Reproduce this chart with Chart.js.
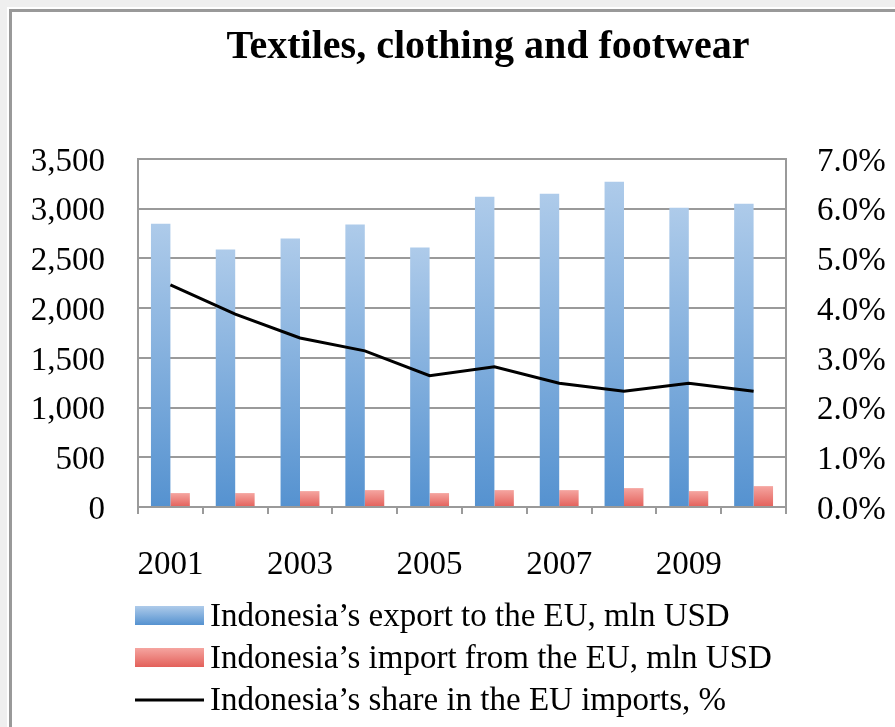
<!DOCTYPE html>
<html>
<head>
<meta charset="utf-8">
<script src="https://cdn.jsdelivr.net/npm/chart.js@4/dist/chart.umd.min.js"></script>
<style>
  html, body { margin: 0; padding: 0; background: #efefef; overflow: hidden; }
  .frame {
    position: absolute; left: 9px; top: 9px; width: 900px; height: 730px;
    background: #fff; border-left: 3px solid #999; border-top: 3px solid #999;
    box-shadow: -2px -2px 0 #fff;
  }
  #chart { position: absolute; left: 0; top: 0; }
</style>
</head>
<body>
<div class="frame"></div>
<canvas id="chart" width="895" height="727"></canvas>
<script>
// Years on the category axis
const years = ['2001', '2002', '2003', '2004', '2005', '2006', '2007', '2008', '2009', '2010'];
// Indonesia's export to the EU, mln USD
const exportToEU = [2850, 2590, 2700, 2840, 2610, 3120, 3150, 3270, 3010, 3050];
// Indonesia's import from the EU, mln USD
const importFromEU = [140, 140, 160, 170, 140, 170, 170, 190, 160, 210];
// Indonesia's share in the EU imports, %
const shareInEU = [4.47, 3.88, 3.40, 3.14, 2.64, 2.82, 2.49, 2.33, 2.49, 2.33];

const chartTitle = 'Textiles, clothing and footwear';
const seriesNames = [
  'Indonesia\u2019s export to the EU, mln USD',
  'Indonesia\u2019s import from the EU, mln USD',
  'Indonesia\u2019s share in the EU imports, %'
];

const FONT = '"Liberation Serif", "Times New Roman", serif';
const GRID = '#9a9a9a';
const BLUE = ['#aecbea', '#5592d0'];
const RED = ['#f5a5a0', '#e3605a'];

// vertical gradient spanning each bar from its top down to zero
function barGradient(stops) {
  return (c) => {
    const chart = c.chart;
    if (!chart.chartArea || c.type !== 'data') return stops[1];
    const y = chart.scales.y;
    const top = y.getPixelForValue(c.raw);
    const bottom = y.getPixelForValue(0);
    if (!isFinite(top) || top === bottom) return stops[1];
    const g = chart.ctx.createLinearGradient(0, top, 0, bottom);
    g.addColorStop(0, stops[0]);
    g.addColorStop(1, stops[1]);
    return g;
  };
}

// title and stacked legend drawn onto the canvas
const decorations = {
  id: 'decorations',
  afterDraw(chart) {
    const ctx = chart.ctx;
    ctx.save();
    ctx.fillStyle = '#000';
    ctx.textBaseline = 'alphabetic';
    ctx.textAlign = 'center';
    ctx.font = 'bold 40px ' + FONT;
    ctx.fillText(chartTitle, 488, 58);

    ctx.textAlign = 'left';
    ctx.font = '33px ' + FONT;
    const boxX = 135, boxW = 69, textX = 210;
    const rows = [626, 668, 710];
    const fills = [BLUE, RED];
    for (let i = 0; i < 2; i++) {
      const y0 = rows[i] - 20, h = 19;
      const g = ctx.createLinearGradient(0, y0, 0, y0 + h);
      g.addColorStop(0, fills[i][0]);
      g.addColorStop(1, fills[i][1]);
      ctx.fillStyle = g;
      ctx.fillRect(boxX, y0, boxW, h);
    }
    ctx.strokeStyle = '#000';
    ctx.lineWidth = 3;
    ctx.beginPath();
    ctx.moveTo(boxX, rows[2] - 10);
    ctx.lineTo(boxX + boxW, rows[2] - 10);
    ctx.stroke();

    ctx.fillStyle = '#000';
    seriesNames.forEach((name, i) => ctx.fillText(name, textX, rows[i]));
    ctx.restore();
  }
};

Chart.defaults.font.family = FONT;
Chart.defaults.font.size = 33;
Chart.defaults.color = '#000';

new Chart(document.getElementById('chart'), {
  data: {
    labels: years,
    datasets: [
      {
        type: 'line',
        label: seriesNames[2],
        data: shareInEU,
        yAxisID: 'y1',
        borderColor: '#000',
        borderWidth: 3,
        pointRadius: 0,
        tension: 0,
        order: 0
      },
      {
        type: 'bar',
        label: seriesNames[0],
        data: exportToEU,
        yAxisID: 'y',
        backgroundColor: barGradient(BLUE),
        categoryPercentage: 0.6,
        barPercentage: 1.0,
        order: 1
      },
      {
        type: 'bar',
        label: seriesNames[1],
        data: importFromEU,
        yAxisID: 'y',
        backgroundColor: barGradient(RED),
        categoryPercentage: 0.6,
        barPercentage: 1.0,
        order: 2
      }
    ]
  },
  options: {
    responsive: false,
    animation: false,
    layout: { padding: { left: 0, right: 0, top: 159, bottom: 0 } },
    plugins: {
      legend: { display: false },
      title: { display: false },
      tooltip: { enabled: false }
    },
    scales: {
      x: {
        grid: { offset: true, drawOnChartArea: false, drawTicks: true, tickLength: 7, color: GRID, lineWidth: 2 },
        border: { display: true, color: GRID, width: 2 },
        ticks: {
          autoSkip: false,
          maxRotation: 0,
          padding: 32,
          callback(value, index) { return index % 2 === 0 ? years[index] : ''; }
        },
        afterFit(scale) { scale.height = 220; }
      },
      y: {
        position: 'left',
        min: 0,
        max: 3500,
        grid: { color: GRID, lineWidth: 2, drawTicks: false },
        border: { display: true, color: GRID, width: 2 },
        ticks: {
          stepSize: 500,
          padding: 33,
          labelOffset: 3,
          callback(v) { return v.toLocaleString('en-US'); }
        },
        afterFit(scale) { scale.width = 138; }
      },
      y1: {
        position: 'right',
        min: 0,
        max: 7,
        grid: { drawOnChartArea: false, drawTicks: false },
        border: { display: true, color: GRID, width: 2 },
        ticks: {
          stepSize: 1,
          padding: 31,
          labelOffset: 3,
          callback(v) { return v.toFixed(1) + '%'; }
        },
        afterFit(scale) { scale.width = 109; }
      }
    }
  },
  plugins: [decorations]
});
</script>
</body>
</html>
